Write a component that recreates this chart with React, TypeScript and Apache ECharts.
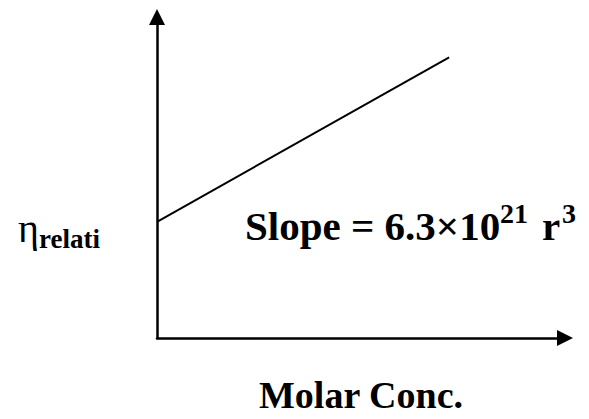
import React, { useEffect, useRef } from "react";
import * as echarts from "echarts";

// Data (arbitrary units on 0..10 axes)
const molarConc = [0, 7.16];
const relativeViscosity = [3.62, 8.74];
const xAxisName = "Molar Conc.";
const etaSymbol = "η";
const etaSubscript = "relati";
const slopeMain = "Slope = 6.3×10";
const slopeExp = "21";
const slopeR = "r";
const slopeRExp = "3";

const SERIF = "'Liberation Serif', 'Times New Roman', serif";

export default function App() {
  const ref = useRef<HTMLDivElement>(null);
  useEffect(() => {
    document.body.style.margin = "0";
    if (!ref.current) return;
    const chart = echarts.init(ref.current, undefined, { renderer: "svg" });
    const axisLine = {
      show: true,
      symbol: ["none", "triangle"],
      symbolSize: [16, 16],
      lineStyle: { color: "#000", width: 2.5 },
    };
    const txt = (text: string, x: number, y: number, font: string) => ({
      type: "text",
      x,
      y,
      style: {
        text,
        font,
        fill: "#000",
        align: "left",
        verticalAlign: "middle",
      },
    });
    chart.setOption({
      animation: false,
      backgroundColor: "#fff",
      grid: { left: 157, right: 24, top: 17, bottom: 76 },
      xAxis: {
        type: "value",
        min: 0,
        max: 10,
        axisLine,
        axisTick: { show: false },
        axisLabel: { show: false },
        splitLine: { show: false },
        name: xAxisName,
        nameLocation: "middle",
        nameGap: 38,
        nameTextStyle: {
          fontFamily: SERIF,
          fontWeight: "bold",
          fontSize: 38,
          color: "#000",
        },
      },
      yAxis: {
        type: "value",
        min: 0,
        max: 10,
        axisLine,
        axisTick: { show: false },
        axisLabel: { show: false },
        splitLine: { show: false },
      },
      series: [
        {
          type: "line",
          data: molarConc.map((x, i) => [x, relativeViscosity[i]]),
          showSymbol: false,
          lineStyle: { color: "#000", width: 2 },
        },
      ],
      graphic: [
        txt(etaSymbol, 18, 228, `40px ${SERIF}`),
        txt(etaSubscript, 39, 239, `bold 27px ${SERIF}`),
        txt(slopeMain, 245, 226, `bold 41px ${SERIF}`),
        txt(slopeExp, 500, 213, `bold 28px ${SERIF}`),
        txt(slopeR, 542, 226, `bold 41px ${SERIF}`),
        txt(slopeRExp, 562, 213, `bold 28px ${SERIF}`),
      ],
    });
    return () => chart.dispose();
  }, []);
  return <div ref={ref} style={{ width: 589, height: 419 }} />;
}
